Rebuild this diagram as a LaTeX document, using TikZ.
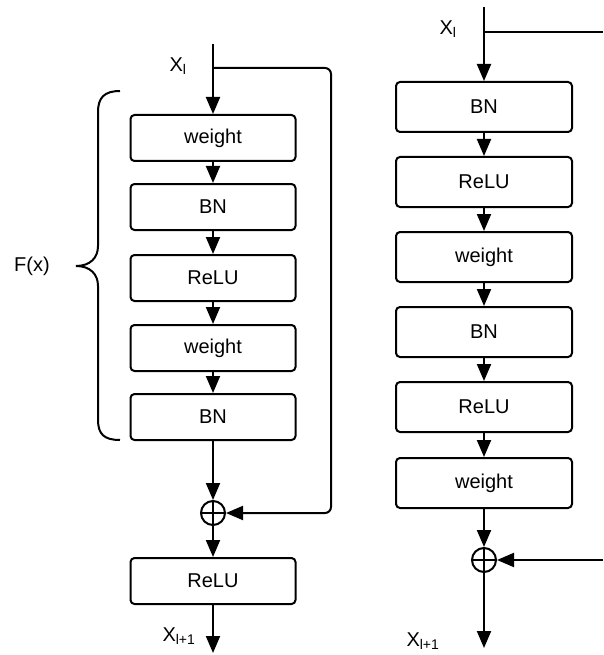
\documentclass[tikz,border=0pt]{standalone}
\usepackage{fontspec}
\setmainfont{Liberation Sans}
\usetikzlibrary{arrows.meta}
\begin{document}
\begin{tikzpicture}[x=1pt,y=-1pt,
  every node/.style={font=\fontsize{20}{23}\selectfont},
  lbox/.style={draw,line width=2pt,rounded corners=4pt,minimum width=165pt,minimum height=46pt,inner sep=0pt},
  rbox/.style={draw,line width=2pt,rounded corners=4pt,minimum width=176pt,minimum height=50pt,inner sep=0pt},
  conn/.style={line width=2pt,-{Triangle[length=17pt,width=14pt]}},
  plain/.style={line width=2pt},
  addnode/.style={draw,circle,line width=2pt,minimum size=24pt,inner sep=0pt,
    path picture={\draw[line width=1.8pt] (path picture bounding box.north) -- (path picture bounding box.south)
      (path picture bounding box.west) -- (path picture bounding box.east);}},
  lbl/.style={inner sep=0pt}
]
\useasboundingbox (0,0) rectangle (603,655);
% ---------- left column ----------
\coordinate (lin) at (213,44);
\coordinate (lbr) at (213,68);
\node[lbox] (l1) at (213,138) {weight};
\node[lbox] (l2) at (213,207) {BN};
\node[lbox] (l3) at (213,278) {ReLU};
\node[lbox] (l4) at (213,348) {weight};
\node[lbox] (l5) at (213,417) {BN};
\node[addnode] (lsum) at (213,513) {};
\node[lbox] (l6) at (213,581) {ReLU};
\coordinate (lout) at (213,653);
\node[lbl] (lxin) at (178,66) {X\textsubscript{l}};
\node[lbl] (lxout) at (179,636) {X\textsubscript{l+1}};
\draw[plain] (lin) -- (lbr);
\draw[conn] (lbr) -- (l1.north);
\draw[conn] (l1) -- (l2);
\draw[conn] (l2) -- (l3);
\draw[conn] (l3) -- (l4);
\draw[conn] (l4) -- (l5);
\draw[conn] (l5) -- (lsum);
\draw[conn] (lsum) -- (l6);
\draw[conn] (l6) -- (lout);
\draw[conn,rounded corners=6pt] (lbr) -- (331,68) -- (331,513) -- (lsum.east);
% brace
\draw[line width=2pt] (120,91) .. controls (104,91) and (98,98) .. (98,112) -- (98,246)
  .. controls (98,258) and (90,266) .. (76,266)
  .. controls (90,266) and (98,274) .. (98,286) -- (98,420)
  .. controls (98,434) and (104,440) .. (120,440);
\node[lbl] (fx) at (32,266) {F(x)};
% ---------- right column ----------
\coordinate (rin) at (484,7);
\coordinate (rbr) at (484,32);
\coordinate (redge) at (603,32);
\node[rbox] (r1) at (484,107) {BN};
\node[rbox] (r2) at (484,182) {ReLU};
\node[rbox] (r3) at (484,257) {weight};
\node[rbox] (r4) at (484,332) {BN};
\node[rbox] (r5) at (484,407) {ReLU};
\node[rbox] (r6) at (484,483) {weight};
\node[addnode] (rsum) at (484,560) {};
\coordinate (rout) at (484,648);
\coordinate (rskip) at (603,560);
\node[lbl] (rxin) at (448,29) {X\textsubscript{l}};
\node[lbl] (rxout) at (423,641) {X\textsubscript{l+1}};
\draw[plain] (rin) -- (rbr) -- (redge);
\draw[conn] (rbr) -- (r1.north);
\draw[conn] (r1) -- (r2);
\draw[conn] (r2) -- (r3);
\draw[conn] (r3) -- (r4);
\draw[conn] (r4) -- (r5);
\draw[conn] (r5) -- (r6);
\draw[conn] (r6) -- (rsum);
\draw[conn] (rsum) -- (rout);
\draw[conn] (rskip) -- (rsum.east);
\end{tikzpicture}
\end{document}
